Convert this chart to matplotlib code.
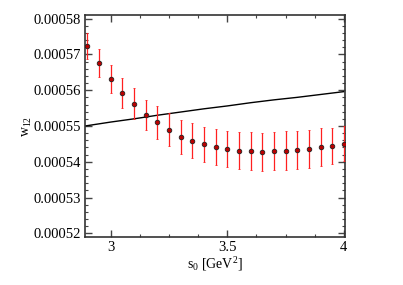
import matplotlib
matplotlib.use("Agg")
import matplotlib.pyplot as plt
from matplotlib.ticker import MultipleLocator, FormatStrFormatter

s0 = [2.90, 2.95, 3.00, 3.05, 3.10, 3.15, 3.20, 3.25, 3.30, 3.35, 3.40, 3.45,
      3.50, 3.55, 3.60, 3.65, 3.70, 3.75, 3.80, 3.85, 3.90, 3.95, 4.00]
w12 = [0.0005723, 0.0005676, 0.0005630, 0.0005591, 0.0005562, 0.0005531,
       0.0005510, 0.0005490, 0.0005470, 0.0005459, 0.0005449, 0.0005442,
       0.0005435, 0.0005431, 0.0005429, 0.0005428, 0.0005429, 0.0005431,
       0.0005433, 0.0005437, 0.0005442, 0.0005445, 0.0005450]
w12_err = [0.0000037, 0.0000038, 0.0000039, 0.0000042, 0.0000043, 0.0000043,
           0.0000045, 0.0000045, 0.0000047, 0.0000048, 0.0000049, 0.0000050,
           0.0000050, 0.0000051, 0.0000053, 0.0000053, 0.0000053, 0.0000054,
           0.0000054, 0.0000053, 0.0000053, 0.0000050, 0.0000049]

line_s0 = [2.89, 3.0, 3.1, 3.2, 3.3, 3.4, 3.5, 3.6, 3.7, 3.8, 3.9, 4.0]
line_w12 = [0.0005500, 0.0005511, 0.0005520, 0.0005530, 0.0005539, 0.0005548,
            0.0005556, 0.0005565, 0.0005573, 0.0005580, 0.0005588, 0.0005596]

plt.rcParams['font.family'] = ['Liberation Serif', 'DejaVu Serif']
plt.rcParams['mathtext.fontset'] = 'stix'

fig = plt.figure(figsize=(4.03, 2.85), dpi=100)
ax = fig.add_axes([85/403, 1 - 237/285, (345-85)/403, (237-15)/285])

ax.plot(line_s0, line_w12, color='black', lw=1.0, zorder=2)
ax.errorbar(s0, w12, yerr=w12_err, fmt='o', ms=3.3, mfc='#bb0000', mec='#222222',
            mew=0.6, ecolor='#ff2020', elinewidth=0.9, capsize=1, capthick=0.7, zorder=3)

ax.set_xlim(2.89, 4.005)
ax.set_ylim(0.000519, 0.000581)
ax.xaxis.set_major_locator(MultipleLocator(0.5))
ax.xaxis.set_minor_locator(MultipleLocator(0.125))
ax.yaxis.set_major_locator(MultipleLocator(0.00001))
ax.yaxis.set_minor_locator(MultipleLocator(0.000002))
ax.xaxis.set_major_formatter(plt.FuncFormatter(lambda v, p: f"{v:g}"))
ax.yaxis.set_major_formatter(FormatStrFormatter('%.5f'))

ax.tick_params(which='both', direction='in', top=True, right=True, labelsize=10.5,
               color='#444444', pad=3)
ax.tick_params(which='major', length=5, width=1.0)
ax.tick_params(which='minor', length=2.5, width=0.8)
for sp in ax.spines.values():
    sp.set_color('#333333')
    sp.set_linewidth(1.2)

ax.set_xlabel(r'$\mathregular{s_0}$ [GeV$\mathregular{^2}$]', fontsize=10, labelpad=1)
ax.set_ylabel(r'$\mathregular{w_{12}}$', fontsize=10, labelpad=0)
ax.yaxis.set_label_coords(-0.195, 0.5)

fig.savefig('out.png', dpi=100)
